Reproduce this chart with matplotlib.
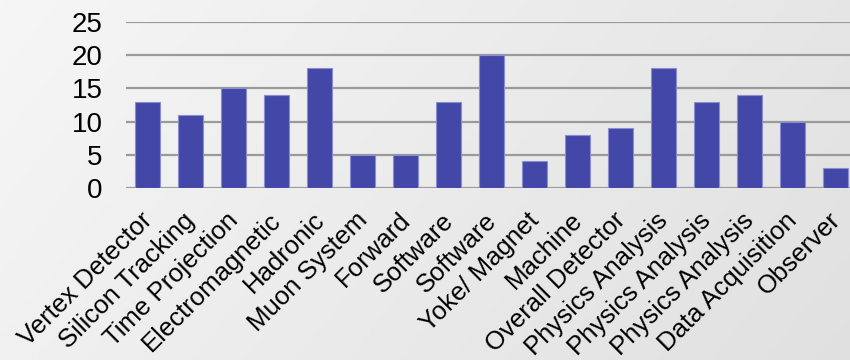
import numpy as np
import matplotlib
matplotlib.use("Agg")
import matplotlib.pyplot as plt
from matplotlib.transforms import ScaledTranslation

categories = [
    "Vertex Detector", "Silicon Tracking", "Time Projection", "Electromagnetic",
    "Hadronic", "Muon System", "Forward", "Software", "Software", "Yoke/ Magnet",
    "Machine", "Overall Detector", "Physics Analysis", "Physics Analysis",
    "Physics Analysis", "Data Acquisition", "Observer",
]
values = [13, 11, 15, 14, 18, 5, 5, 13, 20, 4, 8, 9, 18, 13, 14, 10, 3]
y_ticks = [0, 5, 10, 15, 20, 25]

plt.rcParams["font.family"] = ["Liberation Sans", "DejaVu Sans"]

W, H = 850, 360
fig = plt.figure(figsize=(W / 100, H / 100), dpi=100)

# soft diagonal grey gradient behind everything
bg = fig.add_axes([0, 0, 1, 1], zorder=-10)
xx, yy = np.meshgrid(np.linspace(0, 1, 200), np.linspace(0, 1, 100))
t = 0.75 * xx + 0.25 * yy
shade = 0.965 - 0.085 * t
bg.imshow(np.dstack([shade, shade, shade]), extent=[0, 1, 0, 1],
          aspect="auto", origin="upper")
bg.set_axis_off()

left, right = 126 / W, 857 / W
bottom, top = (H - 188) / H, (H - 22) / H
ax = fig.add_axes([left, bottom, right - left, top - bottom])
ax.patch.set_alpha(0)

x = np.arange(len(categories))
ax.bar(x, values, width=0.57, color="#4348a8", edgecolor="#8a8ed0",
       linewidth=0.8, zorder=3)

ax.set_xlim(-0.5, len(categories) - 0.5)
ax.set_ylim(0, 25)
ax.set_yticks(y_ticks)
ax.set_yticklabels([str(v) for v in y_ticks], fontsize=20)
ax.yaxis.grid(True, color="#9a9a9a", linewidth=1.6, zorder=1)
ax.set_axisbelow(True)
ax.tick_params(axis="y", length=0, pad=17)
ax.tick_params(axis="x", length=0)
for s in ax.spines.values():
    s.set_visible(False)

ax.set_xticks(x)
ax.set_xticklabels(categories, fontsize=18.5, rotation=45, ha="right",
                   va="top", rotation_mode="anchor")
offset = ScaledTranslation(-5.5 / 72, -11 / 72, fig.dpi_scale_trans)
for lbl in ax.get_xticklabels():
    lbl.set_transform(lbl.get_transform() + offset)

fig.savefig("out.png", dpi=100)
